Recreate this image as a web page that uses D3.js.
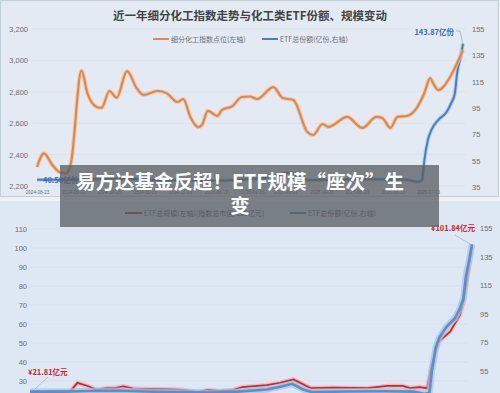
<!DOCTYPE html>
<html><head><meta charset="utf-8">
<script src="https://cdn.jsdelivr.net/npm/d3@7"></script>
<style>
html,body{margin:0;padding:0;background:#eef2f7;}
svg{display:block;font-family:"Noto Sans CJK SC","Noto Sans",sans-serif;}
</style></head>
<body>
<svg id="chart" width="500" height="393"></svg>
<script>
// ---------- DATA ----------
const indexDates = ["2024-08-23","2024-08-29","2024-09-05","2024-09-12","2024-09-17","2024-09-21","2024-09-30","2024-10-05","2024-10-13","2024-10-17","2024-10-24","2024-10-30","2024-11-08","2024-11-16","2024-11-22","2024-12-04","2024-12-12","2024-12-21","2024-12-26","2025-01-01","2025-01-08","2025-01-11","2025-01-16","2025-01-24","2025-01-28","2025-02-06","2025-02-14","2025-02-21","2025-02-27","2025-03-13","2025-03-21","2025-03-30","2025-04-11","2025-04-16","2025-04-24","2025-04-29","2025-05-15","2025-05-28","2025-06-09","2025-06-14","2025-06-21","2025-06-27","2025-07-05","2025-07-14","2025-07-20","2025-07-25","2025-07-27","2025-08-01","2025-08-05","2025-08-11","2025-08-17","2025-08-22"];
const indexValues = [2321,2408,2335,2285,2280,2346,2935,2793,2703,2697,2805,2762,2932,2825,2780,2805,2790,2735,2754,2640,2575,2589,2678,2646,2684,2709,2767,2770,2754,2830,2760,2748,2544,2525,2595,2576,2640,2570,2640,2633,2570,2640,2646,2703,2792,2888,2862,2811,2830,2894,2983,3066];

const shareDates = ["2024-08-23","2024-09-20","2024-10-10","2024-11-05","2024-11-25","2024-12-20","2025-01-15","2025-02-10","2025-03-06","2025-03-17","2025-03-27","2025-04-05","2025-04-12","2025-05-10","2025-06-10","2025-07-05","2025-07-14","2025-07-18","2025-07-20","2025-07-23","2025-07-26","2025-08-01","2025-08-08","2025-08-12","2025-08-15","2025-08-17","2025-08-20","2025-08-22"];
const shareValues = [40.5,40.5,41.0,41.2,40.6,40.2,39.8,40.5,42.0,44.0,46.0,42.0,40.2,40.6,40.8,40.5,38.9,40.0,55.5,70.7,78.3,86,92,98.8,106,121.6,134,143.87];

const scaleDates = ["2024-08-23","2024-09-08","2024-09-25","2024-10-01","2024-10-09","2024-10-17","2024-10-25","2024-11-01","2024-11-08","2024-11-16","2024-11-30","2024-12-16","2024-12-27","2025-01-08","2025-01-17","2025-01-26","2025-02-06","2025-02-14","2025-03-06","2025-03-17","2025-03-28","2025-04-11","2025-04-30","2025-05-28","2025-06-13","2025-06-26","2025-07-02","2025-07-10","2025-07-16","2025-07-20","2025-07-25","2025-08-04","2025-08-12","2025-08-15","2025-08-19","2025-08-22"];
const scaleValues = [21.81,24.3,24.3,29.0,27.5,25.3,26.3,26.3,27.2,26.0,25.8,25.6,25.3,24.2,25.3,24.8,25.2,26.8,27.8,29.0,30.8,26.3,26.5,26.2,27.4,27.4,26.3,26.8,26.2,38.4,50.5,56.0,64.7,72.0,88.0,101.84];

const xTickLabels = ["2024-08-23","2024-09-23","2024-10-23","2024-11-23","2024-12-23","2025-01-23","2025-02-23","2025-03-23","2025-04-23","2025-05-23","2025-06-23","2025-07-23"];
const topLeftTicks = [2200,2400,2600,2800,3000,3200];
const topRightTicks = [35,55,75,95,115,135,155];
const botLeftTicks = [30,40,50,60,70,80,90,100,110];
const botRightTicks = [55,75,95,115,135,155];

const titleText = "近一年细分化工指数走势与化工类ETF份额、规模变动";
const topLegend = ["细分化工指数点位(左轴)","ETF总份额(亿份,右轴)"];
const botLegend = ["ETF总规模(左轴)[指数总市值/125亿元]","ETF总份额(亿份,右轴)"];
const overlayLines = ["易方达基金反超！ETF规模“座次”生","变"];

// ---------- SETUP ----------
const parse = d3.timeParse("%Y-%m-%d");
const svg = d3.select("#chart");
const idx = indexDates.map((d,i)=>({d:parse(d),v:indexValues[i]}));
const shr = shareDates.map((d,i)=>({d:parse(d),v:shareValues[i]}));
const scl = scaleDates.map((d,i)=>({d:parse(d),v:scaleValues[i]}));
const domain = [parse("2024-08-23"), parse("2025-08-22")];

// panels
svg.append("rect").attr("x",0).attr("y",0).attr("width",500).attr("height",393).attr("fill","#eef2f7");
svg.append("rect").attr("x",0.5).attr("y",0.5).attr("width",498).attr("height",196).attr("fill","#e3eaf3").attr("stroke","#c3cedb");
svg.append("rect").attr("x",0).attr("y",201).attr("width",500).attr("height",192).attr("fill","#dee8f4");

// ---------- TOP CHART ----------
const xT = d3.scaleTime().domain(domain).range([37,463]);
const yTL = d3.scaleLinear().domain([2200,3200]).range([186,29]);
const yTR = d3.scaleLinear().domain([35,155]).range([187,29]);

const gTop = svg.append("g");
gTop.selectAll("line.tg").data(topLeftTicks).join("line")
  .attr("x1",33).attr("x2",466).attr("y1",d=>yTL(d)).attr("y2",d=>yTL(d))
  .attr("stroke","#d6dfea").attr("stroke-width",0.6);

const axTL = gTop.append("g").attr("transform","translate(29,0)")
  .call(d3.axisLeft(yTL).tickValues(topLeftTicks).tickFormat(d3.format(",")).tickSize(0).tickPadding(1));
const axTR = gTop.append("g").attr("transform","translate(470,0)")
  .call(d3.axisRight(yTR).tickValues(topRightTicks).tickSize(0).tickPadding(2));
const axTX = gTop.append("g").attr("transform","translate(0,189)")
  .call(d3.axisBottom(xT).tickValues(xTickLabels.map(parse)).tickFormat(d3.timeFormat("%Y-%m-%d")).tickSize(0).tickPadding(2));
[axTL,axTR].forEach(a=>{a.select(".domain").remove();a.selectAll("text").attr("fill","#6b6f75").attr("font-size",7.5);});
axTX.select(".domain").remove();
axTX.selectAll("text").attr("fill","#6b6f75").attr("font-size",4.6);

const lineTL = d3.line().x(d=>xT(d.d)).y(d=>yTL(d.v)).curve(d3.curveMonotoneX);
const lineTR = d3.line().x(d=>xT(d.d)).y(d=>yTR(d.v)).curve(d3.curveMonotoneX);
gTop.append("path").attr("d",lineTR(shr)).attr("fill","none").attr("stroke","#9bbbe0").attr("stroke-width",4).attr("opacity",0.6);
gTop.append("path").attr("d",lineTR(shr)).attr("fill","none").attr("stroke","#4a80c2").attr("stroke-width",2);
gTop.append("path").attr("d",lineTL(idx)).attr("fill","none").attr("stroke","#f0c09a").attr("stroke-width",4.2).attr("opacity",0.7);
gTop.append("path").attr("d",lineTL(idx)).attr("fill","none").attr("stroke","#e2874a").attr("stroke-width",2.2);

// title & legend
gTop.append("text").attr("x",250).attr("y",20).attr("text-anchor","middle").attr("font-size",11.5)
  .attr("font-weight","bold").attr("fill","#404448").text(titleText);
gTop.append("line").attr("x1",153).attr("x2",169).attr("y1",39).attr("y2",39).attr("stroke","#e2874a").attr("stroke-width",2);
gTop.append("text").attr("x",171).attr("y",41.5).attr("font-size",7).attr("fill","#6b6f75").text(topLegend[0]);
gTop.append("line").attr("x1",262).attr("x2",278).attr("y1",39).attr("y2",39).attr("stroke","#4a80c2").attr("stroke-width",2);
gTop.append("text").attr("x",280).attr("y",41.5).attr("font-size",7).attr("fill","#6b6f75").text(topLegend[1]);

// annotations top
const lastS = shr[shr.length-1];
gTop.append("text").attr("x",454).attr("y",35).attr("text-anchor","end").attr("font-size",7.5).attr("font-weight","bold")
  .attr("fill","#3b6db3").text(d3.format(".2f")(lastS.v)+"亿份");
gTop.append("polyline").attr("points",`456,31 460,31 ${xT(lastS.d)-0.5},${yTR(lastS.v)-1}`)
  .attr("fill","none").attr("stroke","#8c9aab").attr("stroke-width",0.6);
gTop.append("text").attr("x",43).attr("y",183).attr("font-size",7.5).attr("font-weight","bold")
  .attr("fill","#3b6db3").text(d3.format(".2f")(shr[0].v)+"亿份");

// ---------- BOTTOM CHART ----------
const xB = d3.scaleTime().domain(domain).range([30,472]);
const yBL = d3.scaleLinear().domain([30,110]).range([381,229]);
const yBR = d3.scaleLinear().domain([35,155]).range([399.5,228.5]);

const gBot = svg.append("g");
gBot.selectAll("line.bg").data(botLeftTicks).join("line")
  .attr("x1",30).attr("x2",468).attr("y1",d=>yBL(d)).attr("y2",d=>yBL(d))
  .attr("stroke","#cfdae7").attr("stroke-width",0.6);
const axBL = gBot.append("g").attr("transform","translate(28,0)")
  .call(d3.axisLeft(yBL).tickValues(botLeftTicks).tickSize(0).tickPadding(1));
const axBR = gBot.append("g").attr("transform","translate(477,0)")
  .call(d3.axisRight(yBR).tickValues(botRightTicks).tickSize(0).tickPadding(3));
[axBL,axBR].forEach(a=>{a.select(".domain").remove();a.selectAll("text").attr("fill","#6b6f75").attr("font-size",7.5);});

const lineBL = d3.line().x(d=>xB(d.d)).y(d=>yBL(d.v));
const lineBR = d3.line().x(d=>xB(d.d)).y(d=>yBR(d.v));
gBot.append("path").attr("d",lineBL(scl)).attr("fill","none").attr("stroke","#f2a0a0").attr("stroke-width",4.5).attr("opacity",0.6);
gBot.append("path").attr("d",lineBL(scl)).attr("fill","none").attr("stroke","#d0262b").attr("stroke-width",1.8);
gBot.append("path").attr("d",lineBR(shr)).attr("fill","none").attr("stroke","#a6c3e4").attr("stroke-width",6.5).attr("opacity",0.75);
gBot.append("path").attr("d",lineBR(shr)).attr("fill","none").attr("stroke","#5d8fc6").attr("stroke-width",2.6);

// legend bottom
gBot.append("line").attr("x1",125).attr("x2",142).attr("y1",213).attr("y2",213).attr("stroke","#c0282d").attr("stroke-width",2);
gBot.append("text").attr("x",144).attr("y",215.5).attr("font-size",7).attr("fill","#555a60").text(botLegend[0]);
gBot.append("line").attr("x1",290).attr("x2",306).attr("y1",213).attr("y2",213).attr("stroke","#4f7fb3").attr("stroke-width",2);
gBot.append("text").attr("x",308).attr("y",215.5).attr("font-size",7).attr("fill","#555a60").text(botLegend[1]);

// annotations bottom
const lastC = scl[scl.length-1];
gBot.append("text").attr("x",475).attr("y",231).attr("text-anchor","end").attr("font-size",7.5).attr("font-weight","bold")
  .attr("fill","#d0262b").text("¥"+d3.format(".2f")(lastC.v)+"亿元");
gBot.append("line").attr("x1",455).attr("y1",235).attr("x2",xB(lastC.d)-1).attr("y2",yBL(lastC.v))
  .attr("stroke","#9aa6b4").attr("stroke-width",0.6);
gBot.append("text").attr("x",28).attr("y",375).attr("font-size",7.5).attr("font-weight","bold")
  .attr("fill","#d0262b").text("¥"+d3.format(".2f")(scl[0].v)+"亿元");
gBot.append("line").attr("x1",48).attr("y1",377).attr("x2",35).attr("y2",389)
  .attr("stroke","#9aa6b4").attr("stroke-width",0.6);

// ---------- OVERLAY ----------
svg.append("rect").attr("x",60).attr("y",165).attr("width",379).attr("height",62).attr("fill","rgba(90,93,99,0.76)");
svg.append("text").attr("x",240).attr("y",189).attr("text-anchor","middle").attr("font-size",19.5).attr("font-weight","bold")
  .attr("fill","#ffffff").text(overlayLines[0]);
svg.append("text").attr("x",240).attr("y",213).attr("text-anchor","middle").attr("font-size",19.5).attr("font-weight","bold")
  .attr("fill","#ffffff").text(overlayLines[1]);
</script>
</body></html>
